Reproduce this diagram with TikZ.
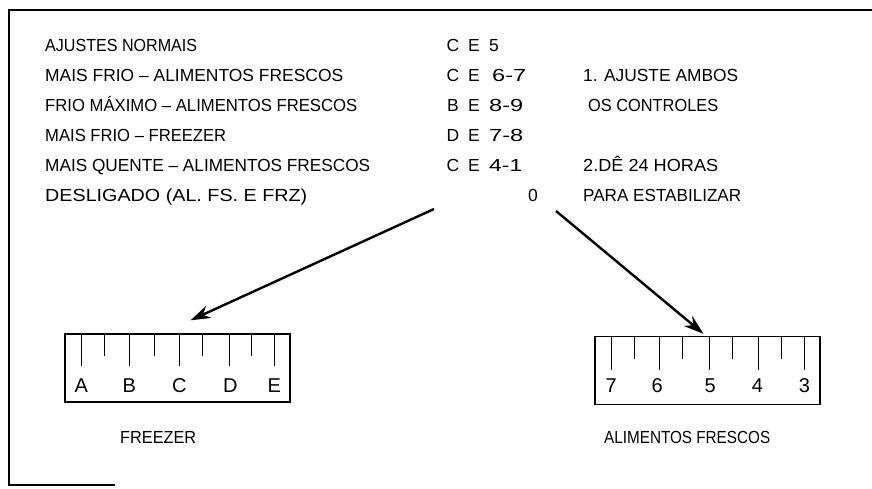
\documentclass[tikz,border=0pt]{standalone}
\usepackage{fontspec}
\setmainfont{Liberation Sans}
\usetikzlibrary{arrows.meta,calc}
\newsavebox\fitbox
\newcommand\fitw[2]{\sbox\fitbox{#2}\pgfmathsetmacro\fitsx{#1/\the\wd\fitbox}\scalebox{\fitsx}[1]{\usebox\fitbox}}
\begin{document}
\begin{tikzpicture}[x=1pt,y=-1pt,
  txt/.style={anchor=base west,inner sep=0pt,font=\fontsize{17.5}{19}\selectfont},
  ctxt/.style={anchor=base,inner sep=0pt,font=\fontsize{17.5}{19}\selectfont},
  rlab/.style={anchor=base,inner sep=0pt,font=\fontsize{20}{22}\selectfont},
  ruler/.style={draw,line width=1.4pt,minimum width=225pt,minimum height=68pt,inner sep=0pt},
  tick/.style={line width=1.2pt},
  frame/.style={line width=1.5pt},
  arr/.style={line width=2.4pt,-{Stealth[length=20pt,width=13pt]}}]
\useasboundingbox (0,0) rectangle (872,488);
% frame
\draw[frame] (115,485) -- (9,485) -- (9,10) -- (872,10);
% left column
\node[txt] (l1) at (45,51) {\fitw{152}{AJUSTES NORMAIS}};
\node[txt] (l2) at (45,81) {\fitw{298}{MAIS FRIO – ALIMENTOS FRESCOS}};
\node[txt] (l3) at (45,111) {\fitw{312}{FRIO MÁXIMO – ALIMENTOS FRESCOS}};
\node[txt] (l4) at (45,141) {\fitw{181}{MAIS FRIO – FREEZER}};
\node[txt] (l5) at (45,171) {\fitw{325}{MAIS QUENTE – ALIMENTOS FRESCOS}};
\node[txt] (l6) at (45,201) {\fitw{262}{DESLIGADO (AL. FS. E FRZ)}};
% letter columns
\node[ctxt] (c1) at (453,51) {C};  \node[ctxt] (e1) at (474,51) {E};  \node[txt] (n1) at (489,51) {5};
\node[ctxt] (c2) at (453,81) {C};  \node[ctxt] (e2) at (474,81) {E};  \node[txt] (n2) at (492,81) {\fitw{34}{6-7}};
\node[ctxt] (c3) at (453,111) {B}; \node[ctxt] (e3) at (474,111) {E}; \node[txt] (n3) at (489,111) {\fitw{34}{8-9}};
\node[ctxt] (c4) at (453,141) {D}; \node[ctxt] (e4) at (474,141) {E}; \node[txt] (n4) at (489,141) {\fitw{34}{7-8}};
\node[ctxt] (c5) at (453,171) {C}; \node[ctxt] (e5) at (474,171) {E}; \node[txt] (n5) at (489,171) {\fitw{33}{4-1}};
\node[txt] (n6) at (528,201) {0};
% notes
\node[txt] (r1) at (583,81) {\fitw{155}{1. AJUSTE AMBOS}};
\node[txt] (r2) at (588,111) {\fitw{130}{OS CONTROLES}};
\node[txt] (r3) at (583,171) {\fitw{135}{2.DÊ 24 HORAS}};
\node[txt] (r4) at (583,201) {\fitw{158}{PARA ESTABILIZAR}};
% rulers
\node[ruler] (fz) at (177.5,368) {};
\node[ruler] (af) at (707.5,370.5) {};
\foreach \dx/\len in {17/33,40/23,65/33,90/23,115/33,138/23,165/33,187/23,210/33}
  \draw[tick] ($(fz.north west)+(\dx,0)$) -- ++(0,\len);
\foreach \dx/\len in {17/34,40/23,65/34,88/23,115/34,138/23,164/34,187/23,210/34}
  \draw[tick] ($(af.north west)+(\dx,0)$) -- ++(0,\len);
\foreach \dx/\t [count=\i] in {17/A,65/B,115/C,166/D,210/E}
  \node[rlab] (fl\i) at ($(fz.north west)+(\dx,59)$) {\t};
\foreach \dx/\t [count=\i] in {17/7,63/6,116/5,163/4,210/3}
  \node[rlab] (al\i) at ($(af.north west)+(\dx,57)$) {\t};
% captions
\node[txt] (cf) at (120,443) {\fitw{76}{FREEZER}};
\node[txt] (ca) at (604,443) {\fitw{166}{ALIMENTOS FRESCOS}};
% arrows
\coordinate (s1) at (434,209);
\coordinate (s2) at (556,211);
\coordinate (t1) at ($(fz.north)+(13,-13)$);
\coordinate (t2) at ($(af.north)+(-4,-2)$);
\draw[arr] (s1) -- (t1);
\draw[arr] (s2) -- (t2);
\end{tikzpicture}
\end{document}
